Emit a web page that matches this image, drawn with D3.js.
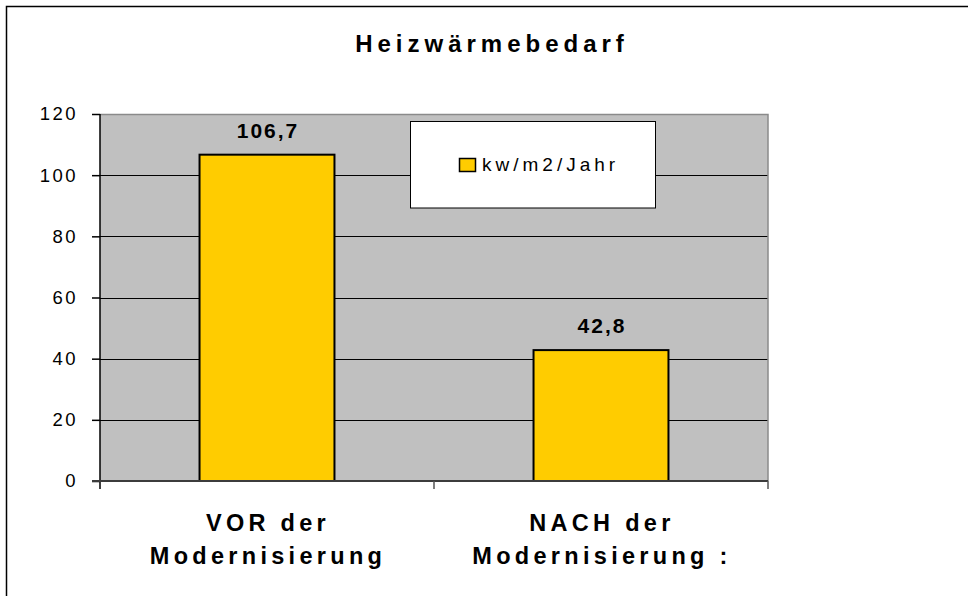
<!DOCTYPE html>
<html>
<head>
<meta charset="utf-8">
<script src="https://cdn.jsdelivr.net/npm/d3@7"></script>
<style>
  body { margin: 0; background: #fff; }
  text { font-family: "Liberation Sans", Arial, sans-serif; }
</style>
</head>
<body>
<div id="chart"></div>
<script>
// Data
const categories = [["VOR der", "Modernisierung"], ["NACH der", "Modernisierung :"]];
const values = [106.7, 42.8];
const valueLabels = ["106,7", "42,8"];
const yTicks = [0, 20, 40, 60, 80, 100, 120];
const seriesName = "kw/m2/Jahr";
const title = "Heizwärmebedarf";

const width = 968, height = 596;
const margin = { top: 114, right: 200, bottom: 115, left: 100 };

const svg = d3.select("#chart")
    .append("svg")
    .attr("width", width)
    .attr("height", height);

// Outer frame (top and left edges only visible)
svg.append("path")
    .attr("d", `M6.5,${height} L6.5,6.5 L${width},6.5`)
    .attr("fill", "none")
    .attr("stroke", "#000")
    .attr("stroke-width", 1.5);

const x = d3.scaleBand()
    .domain(d3.range(categories.length))
    .range([margin.left, width - margin.right])
    .paddingInner(0.596)
    .paddingOuter(0.298);

const y = d3.scaleLinear()
    .domain([0, 120])
    .range([height - margin.bottom, margin.top]);

// Plot area
svg.append("rect")
    .attr("x", margin.left)
    .attr("y", y(120))
    .attr("width", width - margin.right - margin.left)
    .attr("height", y(0) - y(120))
    .attr("fill", "#c0c0c0");

// Gridlines
svg.append("g")
    .selectAll("line")
    .data(yTicks.filter(d => d > 0 && d < 120))
    .enter().append("line")
    .attr("x1", margin.left)
    .attr("x2", width - margin.right)
    .attr("y1", d => Math.round(y(d)) + 0.5)
    .attr("y2", d => Math.round(y(d)) + 0.5)
    .attr("stroke", "#000")
    .attr("stroke-width", 1);

// Plot area top / right border
svg.append("path")
    .attr("d", `M${margin.left},${Math.round(y(120)) + 0.5} L${width - margin.right},${Math.round(y(120)) + 0.5} L${width - margin.right},${y(0)}`)
    .attr("fill", "none")
    .attr("stroke", "#8a8a8a")
    .attr("stroke-width", 1.5);

// Bars
svg.append("g")
    .selectAll("rect")
    .data(values)
    .enter().append("rect")
    .attr("x", (d, i) => x(i))
    .attr("y", d => y(d))
    .attr("width", x.bandwidth())
    .attr("height", d => y(0) - y(d))
    .attr("fill", "#ffcc00")
    .attr("stroke", "#000")
    .attr("stroke-width", 2);

// Value labels
svg.append("g")
    .selectAll("text")
    .data(values)
    .enter().append("text")
    .attr("x", (d, i) => x(i) + x.bandwidth() / 2 + 1)
    .attr("y", d => y(d) - 17)
    .attr("text-anchor", "middle")
    .style("font-size", "21px")
    .style("font-weight", "bold")
    .style("letter-spacing", "2px")
    .text((d, i) => valueLabels[i]);

// Y axis
const yAxis = svg.append("g")
    .attr("transform", `translate(${margin.left},0)`)
    .call(d3.axisLeft(y).tickValues(yTicks).tickSize(8).tickPadding(14).tickSizeOuter(0));
yAxis.select(".domain").remove();
yAxis.selectAll(".tick line").attr("stroke", "#000").attr("stroke-width", 1.5);
yAxis.selectAll(".tick text")
    .style("font-size", "18.5px")
    .style("letter-spacing", "2.5px")
    .attr("fill", "#000");
yAxis.append("line")
    .attr("x1", 0).attr("x2", 0)
    .attr("y1", y(120)).attr("y2", y(0) + 8)
    .attr("stroke", "#000")
    .attr("stroke-width", 1.5);

// X axis line and category boundary ticks
svg.append("line")
    .attr("x1", margin.left - 8)
    .attr("x2", width - margin.right)
    .attr("y1", y(0))
    .attr("y2", y(0))
    .attr("stroke", "#3c3c3c")
    .attr("stroke-width", 2);

const bounds = d3.range(categories.length + 1).map(i => margin.left + i * x.step());
svg.append("g")
    .selectAll("line")
    .data(bounds.slice(1))
    .enter().append("line")
    .attr("x1", d => d)
    .attr("x2", d => d)
    .attr("y1", y(0))
    .attr("y2", y(0) + 8)
    .attr("stroke", "#555")
    .attr("stroke-width", 1.5);

// Category labels
const catG = svg.append("g")
    .selectAll("text")
    .data(categories)
    .enter().append("text")
    .attr("text-anchor", "middle")
    .style("font-size", "23.5px")
    .style("font-weight", "bold")
    .style("letter-spacing", "4.3px");
catG.selectAll("tspan")
    .data((d, i) => d.map(line => ({ line, i })))
    .enter().append("tspan")
    .attr("x", d => x(d.i) + x.bandwidth() / 2 + 1)
    .attr("y", (d, j) => 531 + j * 33)
    .text(d => d.line);

// Legend
const legend = svg.append("g");
legend.append("rect")
    .attr("x", 410.5)
    .attr("y", 121.5)
    .attr("width", 245)
    .attr("height", 86.5)
    .attr("fill", "#fff")
    .attr("stroke", "#000")
    .attr("stroke-width", 1);
legend.append("rect")
    .attr("x", 459.5)
    .attr("y", 158.5)
    .attr("width", 16)
    .attr("height", 13)
    .attr("fill", "#ffcc00")
    .attr("stroke", "#000")
    .attr("stroke-width", 1.5);
legend.append("text")
    .attr("x", 482)
    .attr("y", 171)
    .style("font-size", "19px")
    .style("letter-spacing", "4px")
    .text(seriesName);

// Title
svg.append("text")
    .attr("x", 492)
    .attr("y", 52)
    .attr("text-anchor", "middle")
    .style("font-size", "24px")
    .style("font-weight", "bold")
    .style("letter-spacing", "5px")
    .text(title);
</script>
</body>
</html>
